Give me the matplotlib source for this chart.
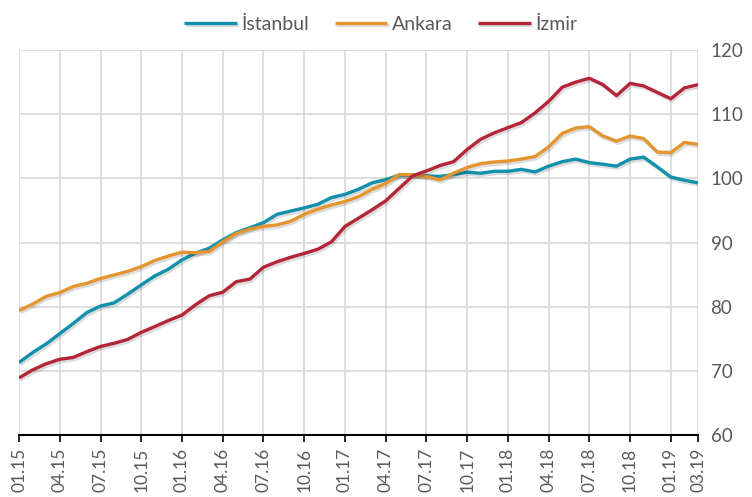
import matplotlib
matplotlib.use("Agg")
import matplotlib.pyplot as plt
import matplotlib.patheffects as pe
import numpy as np

plt.rcParams['font.family'] = ['Lato', 'DejaVu Sans']

months = ["01.15", "02.15", "03.15", "04.15", "05.15", "06.15", "07.15", "08.15", "09.15", "10.15", "11.15", "12.15",
          "01.16", "02.16", "03.16", "04.16", "05.16", "06.16", "07.16", "08.16", "09.16", "10.16", "11.16", "12.16",
          "01.17", "02.17", "03.17", "04.17", "05.17", "06.17", "07.17", "08.17", "09.17", "10.17", "11.17", "12.17",
          "01.18", "02.18", "03.18", "04.18", "05.18", "06.18", "07.18", "08.18", "09.18", "10.18", "11.18", "12.18",
          "01.19", "02.19", "03.19"]

istanbul = [71.3, 72.85, 74.2, 75.8, 77.4, 79.1, 80.1, 80.6, 81.95, 83.4, 84.8, 85.85,
            87.3, 88.35, 89.1, 90.4, 91.55, 92.3, 93.1, 94.4, 94.9, 95.4, 95.95, 97.0,
            97.5, 98.3, 99.3, 99.8, 100.5, 100.5, 100.4, 100.3, 100.6, 100.95, 100.8, 101.1,
            101.1, 101.4, 101.0, 101.9, 102.6, 103.0, 102.45, 102.2, 101.9, 103.0, 103.3, 101.8,
            100.2, 99.7, 99.3]

ankara = [79.4, 80.4, 81.6, 82.2, 83.15, 83.65, 84.4, 84.95, 85.5, 86.25, 87.2, 87.9,
          88.5, 88.4, 88.6, 90.1, 91.4, 92.1, 92.5, 92.75, 93.3, 94.4, 95.2, 95.85,
          96.4, 97.15, 98.3, 99.2, 100.6, 100.55, 100.3, 99.75, 100.8, 101.7, 102.3, 102.55,
          102.7, 103.0, 103.4, 104.9, 107.0, 107.85, 108.05, 106.6, 105.8, 106.6, 106.2, 104.1,
          104.0, 105.6, 105.3]

izmir = [68.9, 70.15, 71.1, 71.8, 72.1, 73.0, 73.8, 74.3, 74.9, 76.0, 76.9, 77.85,
         78.7, 80.3, 81.7, 82.25, 83.9, 84.3, 86.15, 87.0, 87.7, 88.3, 88.95, 90.1,
         92.5, 93.8, 95.1, 96.5, 98.45, 100.4, 101.15, 102.0, 102.6, 104.5, 106.1, 107.1,
         107.9, 108.7, 110.2, 112.0, 114.2, 115.0, 115.6, 114.6, 112.9, 114.8, 114.4, 113.4,
         112.4, 114.1, 114.6]

series = [("İstanbul", istanbul, "#1190ac"),
          ("Ankara", ankara, "#e4952f"),
          ("İzmir", izmir, "#b52538")]

fig = plt.figure(figsize=(7.52, 4.97), dpi=100)
ax = fig.add_axes([0.0253, 0.1247, 0.9029, 0.7747])

x = np.arange(len(months))
shadow = [pe.SimpleLineShadow(offset=(1.0, -1.6), alpha=0.14, shadow_color='k'), pe.Normal()]
for name, vals, col in series:
    ax.plot(x, vals, color=col, lw=2.4, label=name, path_effects=shadow, solid_capstyle='butt')

tick_pos = list(range(0, len(months), 3)) + [len(months) - 1]
ax.set_xticks(tick_pos)
ax.set_xticklabels([months[i] for i in tick_pos], rotation=90, color='#595959', fontsize=12.5)
ax.set_xlim(0, len(months) - 1)
ax.set_ylim(60, 120)
ax.set_yticks(range(60, 121, 10))
ax.yaxis.tick_right()
ax.tick_params(axis='y', length=0, labelsize=13.5, labelcolor='#595959', pad=9)
ax.tick_params(axis='x', length=5, width=1.2, color='black', pad=4)

ax.grid(True, color='#d9d9d9', lw=1.2)
ax.set_axisbelow(True)
for s in ['top', 'left', 'right']:
    ax.spines[s].set_visible(False)
ax.spines['bottom'].set_color('black')
ax.spines['bottom'].set_linewidth(1.5)

ax.legend(loc='lower center', bbox_to_anchor=(0.533, 1.025), ncol=3, frameon=False,
          fontsize=14, labelcolor='#595959', handlelength=2.7, columnspacing=1.3,
          handletextpad=0.25, borderaxespad=0)

fig.savefig("out.png", dpi=100)
